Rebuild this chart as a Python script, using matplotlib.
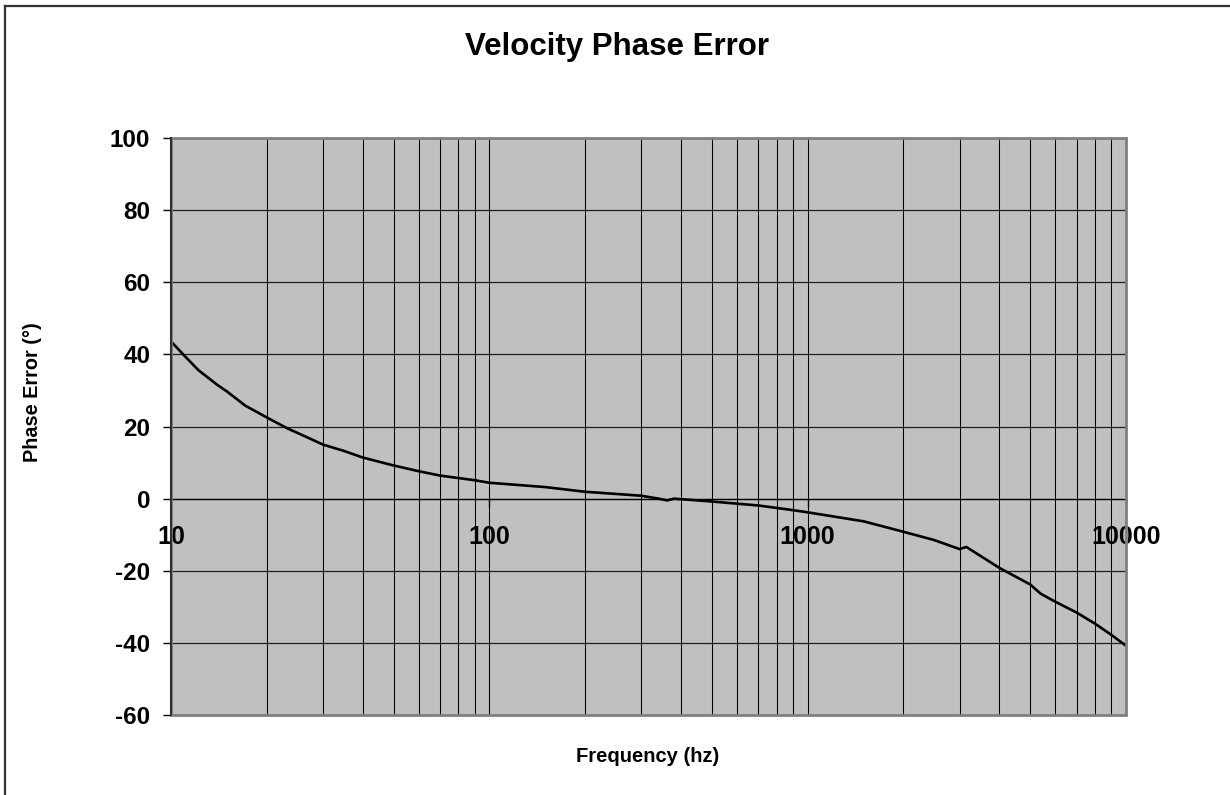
import matplotlib
matplotlib.use("Agg")
import matplotlib.pyplot as plt
from matplotlib.lines import Line2D
from matplotlib.patches import Rectangle
from matplotlib.ticker import LogLocator, FixedLocator, FuncFormatter

plt.rcParams['font.family'] = ['Liberation Sans', 'DejaVu Sans']
plt.rcParams['font.weight'] = 'bold'
plt.rcParams['axes.unicode_minus'] = False

# phase error
freq_hz = [10, 11, 12.2, 14, 15, 17.1, 20, 23.3, 25, 30, 35, 40, 50, 60, 70, 80, 90,
           100, 150, 200, 250, 300, 340, 362, 380, 500, 700, 900, 1000, 1500, 2000,
           2500, 3000, 3150, 4000, 5000, 5400, 6000, 7000, 8000, 9000, 10000]
phase_err = [43.6, 39.7, 35.6, 31.5, 29.7, 25.8, 22.5, 19.4, 18.2, 15.0, 13.2, 11.4,
             9.2, 7.6, 6.4, 5.7, 5.1, 4.4, 3.2, 1.9, 1.3, 0.8, 0.0, -0.5, 0.0, -0.8,
             -1.9, -3.2, -3.8, -6.3, -9.2, -11.5, -14.0, -13.4, -19.2, -23.8, -26.4,
             -28.6, -31.6, -34.7, -37.8, -40.8]

y_ticks = [-60, -40, -20, 0, 20, 40, 60, 80, 100]
x_ticks = [10, 100, 1000, 10000]

fig = plt.figure(figsize=(12.3, 7.95), dpi=100)
ax = fig.add_axes([171 / 1230, 1 - 715 / 795, (1126 - 171) / 1230, (715 - 138) / 795])
ax.set_facecolor('#C0C0C0')

ax.plot(freq_hz, phase_err, color='black', lw=1.9, zorder=5)

ax.set_xscale('log')
ax.set_xlim(10, 10000)
ax.set_ylim(-60, 100)

ax.xaxis.set_major_locator(FixedLocator(x_ticks))
ax.xaxis.set_minor_locator(LogLocator(base=10, subs=range(2, 10)))
ax.xaxis.set_major_formatter(FuncFormatter(lambda v, p: '%d' % v))
ax.xaxis.set_minor_formatter(FuncFormatter(lambda v, p: ''))
ax.set_yticks(y_ticks)

ax.grid(True, which='both', axis='x', color='black', lw=0.75)
ax.grid(True, which='major', axis='y', color='#202020', lw=0.9)
ax.set_axisbelow(True)

# x axis crosses at zero like the Excel original
ax.spines['bottom'].set_position(('data', 0))
ax.spines['bottom'].set_color('black')
ax.spines['bottom'].set_linewidth(0.9)
ax.spines['left'].set_color('#303030')
ax.spines['left'].set_linewidth(1.5)
for s in ['top', 'right']:
    ax.spines[s].set_visible(False)
ax.add_patch(Rectangle((0, 0), 1, 1, transform=ax.transAxes, fill=False,
                       edgecolor='#808080', lw=2, zorder=6, clip_on=False))
ax.spines['left'].set_zorder(7)

ax.tick_params(axis='x', which='major', direction='out', length=6, width=1,
               pad=13, labelsize=18, colors='black')
ax.tick_params(axis='x', which='minor', length=0)
ax.tick_params(axis='y', direction='out', length=6, width=1, pad=9,
               labelsize=17.5, colors='black')

fig.text(617 / 1230, 1 - 47 / 795, 'Velocity Phase Error', ha='center', va='center',
         fontsize=22.5, fontweight='bold')
fig.text(648 / 1230, 1 - 757 / 795, 'Frequency (hz)', ha='center', va='center',
         fontsize=14.5, fontweight='bold')
fig.text(32 / 1230, 1 - 392 / 795, 'Phase Error (°)', ha='center', va='center',
         rotation=90, fontsize=14.3, fontweight='bold')

# outer chart frame (only left and top edges show)
fig.add_artist(Line2D([5 / 1230, 5 / 1230], [0, 1 - 5.5 / 795], transform=fig.transFigure,
                      color='#333333', lw=1.6))
fig.add_artist(Line2D([5 / 1230, 1], [1 - 5.5 / 795, 1 - 5.5 / 795], transform=fig.transFigure,
                      color='#333333', lw=1.6))

fig.savefig('out.png', dpi=100)
